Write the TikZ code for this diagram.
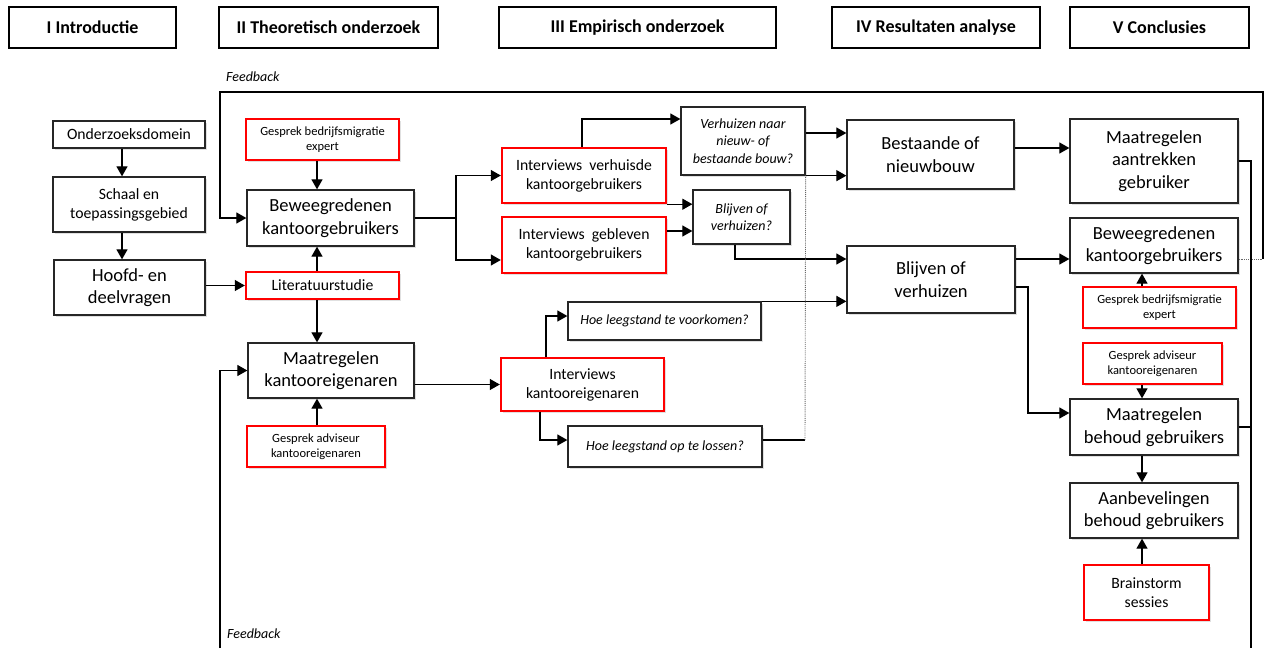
\documentclass[tikz,border=0pt]{standalone}
\usepackage{fontspec}
\setmainfont{Carlito}
\usetikzlibrary{arrows.meta,shadows}
\begin{document}
\begin{tikzpicture}[x=1pt,y=-1pt,
  base/.style={align=center, inner sep=0pt, fill=white},
  shad/.style={drop shadow={shadow xshift=1.8pt, shadow yshift=-1.8pt, fill=black, opacity=0.12}},
  box/.style={base, shad, draw=black!85, line width=1.3pt},
  redbox/.style={base, shad, draw=red, line width=2.4pt},
  head/.style={base, draw=black, line width=2pt, font=\fontsize{18}{21}\selectfont\bfseries},
  big/.style={font=\fontsize{18.5}{22.5}\selectfont},
  mid/.style={font=\fontsize{15.7}{19}\selectfont},
  sml/.style={font=\fontsize{12.5}{15}\selectfont},
  qst/.style={font=\fontsize{14}{17.5}\selectfont\itshape},
  fbk/.style={font=\fontsize{14}{16}\selectfont\itshape, inner sep=0pt, anchor=west},
  conn/.style={line width=1.25pt, -{Triangle[length=10pt,width=11pt]}},
  plain/.style={line width=1.25pt},
  dots/.style={line width=0.9pt, densely dotted, black!60},
  sz/.style n args={2}{minimum width=#1pt, minimum height=#2pt},
]
\useasboundingbox (0,0) rectangle (1266,648);

% headers
\node[head, sz={167}{41}] (h1) at (92.5,27.5) {I Introductie};
\node[head, sz={219}{41}] (h2) at (328.5,27.5) {II Theoretisch onderzoek};
\node[head, sz={277}{41}] (h3) at (637.5,27.5) {III Empirisch onderzoek};
\node[head, sz={208}{41}] (h4) at (936,27.5) {IV Resultaten analyse};
\node[head, sz={179}{41}] (h5) at (1159.5,27.5) {V Conclusies};

% feedback labels
\node[fbk] (fb1) at (226,77) {Feedback};
\node[fbk] (fb2) at (227,634) {Feedback};

% helper coordinates
\coordinate (xa) at (122,0);
\coordinate (xb) at (317,0);
\coordinate (bx) at (456,0);
\coordinate (dx) at (805,0);
\coordinate (dx2) at (1028,0);
\coordinate (xe) at (1142,0);
\coordinate (tl) at (220,92);
\coordinate (tr) at (1263,92);
\coordinate (fbr) at (1263,259);
\coordinate (bl) at (220,648);
\coordinate (br) at (1251,648);

% column I
\node[box, mid, sz={152}{27}] (a1) at (129,134.5) {Onderzoeksdomein};
\node[box, mid, sz={152}{55}] (a2) at (129,204.5) {Schaal en\\toepassingsgebied};
\node[box, big, sz={151}{55}] (a3) at (129.5,287.5) {Hoofd- en\\deelvragen};

% column II
\node[redbox, sml, sz={153}{41}] (b1) at (322.5,139.5) {Gesprek bedrijfsmigratie\\expert};
\node[box, big, sz={167}{56}] (b2) at (330.5,218) {Beweegredenen\\kantoorgebruikers};
\node[redbox, mid, sz={153}{27}] (b3) at (322.5,285.5) {Literatuurstudie};
\node[box, big, sz={166}{55}] (b4) at (331,370.5) {Maatregelen\\kantooreigenaren};
\node[redbox, sml, sz={138}{41}] (b5) at (316,446.5) {Gesprek adviseur\\kantooreigenaren};

% column III
\node[redbox, mid, sz={164}{55}] (c1) at (584,175.5) {Interviews~ verhuisde\\kantoorgebruikers};
\node[redbox, mid, sz={164}{56}] (c2) at (584,245) {Interviews~ gebleven\\kantoorgebruikers};
\node[box, qst, sz={124}{68}] (c3) at (743,141) {Verhuizen naar\\nieuw- of\\bestaande bouw?};
\node[box, qst, sz={97}{54}] (c4) at (741.5,217) {Blijven of\\verhuizen?};
\node[redbox, mid, sz={163}{53}] (c5) at (582.5,384.5) {Interviews\\kantooreigenaren};
\node[box, qst, sz={193}{38}] (c6) at (664.5,321) {Hoe leegstand te voorkomen?};
\node[box, qst, sz={194}{41}] (c7) at (665,446.5) {Hoe leegstand op te lossen?};

% column IV
\node[box, big, sz={167}{69}] (d1) at (930.5,154.5) {Bestaande of\\nieuwbouw};
\node[box, big, sz={168}{67}] (d2) at (931,279.5) {Blijven of\\verhuizen};

% column V
\node[box, big, sz={168}{84}] (e1) at (1154,161) {Maatregelen\\aantrekken\\gebruiker};
\node[box, big, sz={168}{55}] (e2) at (1154,245.5) {Beweegredenen\\kantoorgebruikers};
\node[redbox, sml, sz={153}{41}] (e3) at (1159.5,307.5) {Gesprek bedrijfsmigratie\\expert};
\node[redbox, sml, sz={139}{41}] (e4) at (1152.5,363.5) {Gesprek adviseur\\kantooreigenaren};
\node[box, big, sz={168}{56}] (e5) at (1154,427) {Maatregelen\\behoud gebruikers};
\node[box, big, sz={168}{55}] (e6) at (1154,510.5) {Aanbevelingen\\behoud gebruikers};
\node[redbox, mid, sz={125}{55}] (e7) at (1146.5,592.5) {Brainstorm\\sessies};

% connectors column I
\draw[conn] (a1.south -| xa) -- (a2.north -| xa);
\draw[conn] (a2.south -| xa) -- (a3.north -| xa);
\draw[conn] (a3.east |- b3.west) -- (b3.west);

% column II
\draw[conn] (b1.south -| xb) -- (b2.north -| xb);
\draw[conn] (b3.north -| xb) -- (b2.south -| xb);
\draw[conn] (b3.south -| xb) -- (b4.north -| xb);
\draw[conn] (b5.north -| xb) -- (b4.south -| xb);

% column II -> III
\draw[plain] (b2.east) -- (b2.east -| bx);
\draw[conn] (b2.east -| bx) |- (c1.west);
\draw[conn] (b2.east -| bx) |- ([yshift=-15pt]c2.west);
\draw[conn] (b4.east |- c5.west) -- (c5.west);

% column III
\draw[conn] ([xshift=-2pt]c1.north) |- ([yshift=22pt]c3.west);
\draw[conn] (c1.south east) -- (c1.south east -| c4.west);
\draw[conn] ([yshift=14pt]c2.east) -- ([yshift=14pt]c2.east -| c4.west);
\draw[conn] ([xshift=-36.5pt]c5.north) |- ([yshift=5pt]c6.west);
\draw[conn] ([xshift=-42.5pt]c5.south) |- ([yshift=6.5pt]c7.west);

% column III -> IV
\draw[conn] ([yshift=8pt]c3.east) -- ([yshift=8pt]c3.east -| d1.west);
\draw[conn] (c3.south east) -- (c3.south east -| d1.west);
\draw[conn] ([xshift=-6.5pt]c4.south) |- ([yshift=20.5pt]d2.west);
\draw[conn] (c6.north east) -- (c6.north east -| d2.west);
\draw[plain] ([yshift=6.5pt]c7.east) -- ([yshift=6.5pt]c7.east -| dx);
\draw[dots] ([yshift=6.5pt]c7.east -| dx) -- (c3.south east);

% column IV -> V
\draw[conn] ([yshift=6.5pt]d1.east) -- ([yshift=6.5pt]d1.east -| e1.west);
\draw[conn] ([yshift=20.5pt]d2.east) -- ([yshift=20.5pt]d2.east -| e2.west);
\draw[conn] ([yshift=-7.5pt]d2.east) -- ([yshift=-7.5pt]d2.east -| dx2) |- ([yshift=14pt]e5.west);

% column V
\draw[conn] (e3.north -| xe) -- (e2.south -| xe);
\draw[conn] (e4.south -| xe) -- (e5.north -| xe);
\draw[conn] (e5.south -| xe) -- (e6.north -| xe);
\draw[conn] (e7.north -| xe) -- (e6.south -| xe);

% feedback loops
\draw[dots] (e2.east |- fbr) -- (fbr);
\draw[conn] (fbr) -- (tr) -- (tl) -- (tl |- b2.west) -- (b2.west);
\draw[plain] (e1.east) -- (e1.east -| br) -- (br);
\draw[plain] (e5.east) -- (e5.east -| br);
\draw[conn] (bl) -- (bl |- b4.west) -- (b4.west);
\end{tikzpicture}
\end{document}
